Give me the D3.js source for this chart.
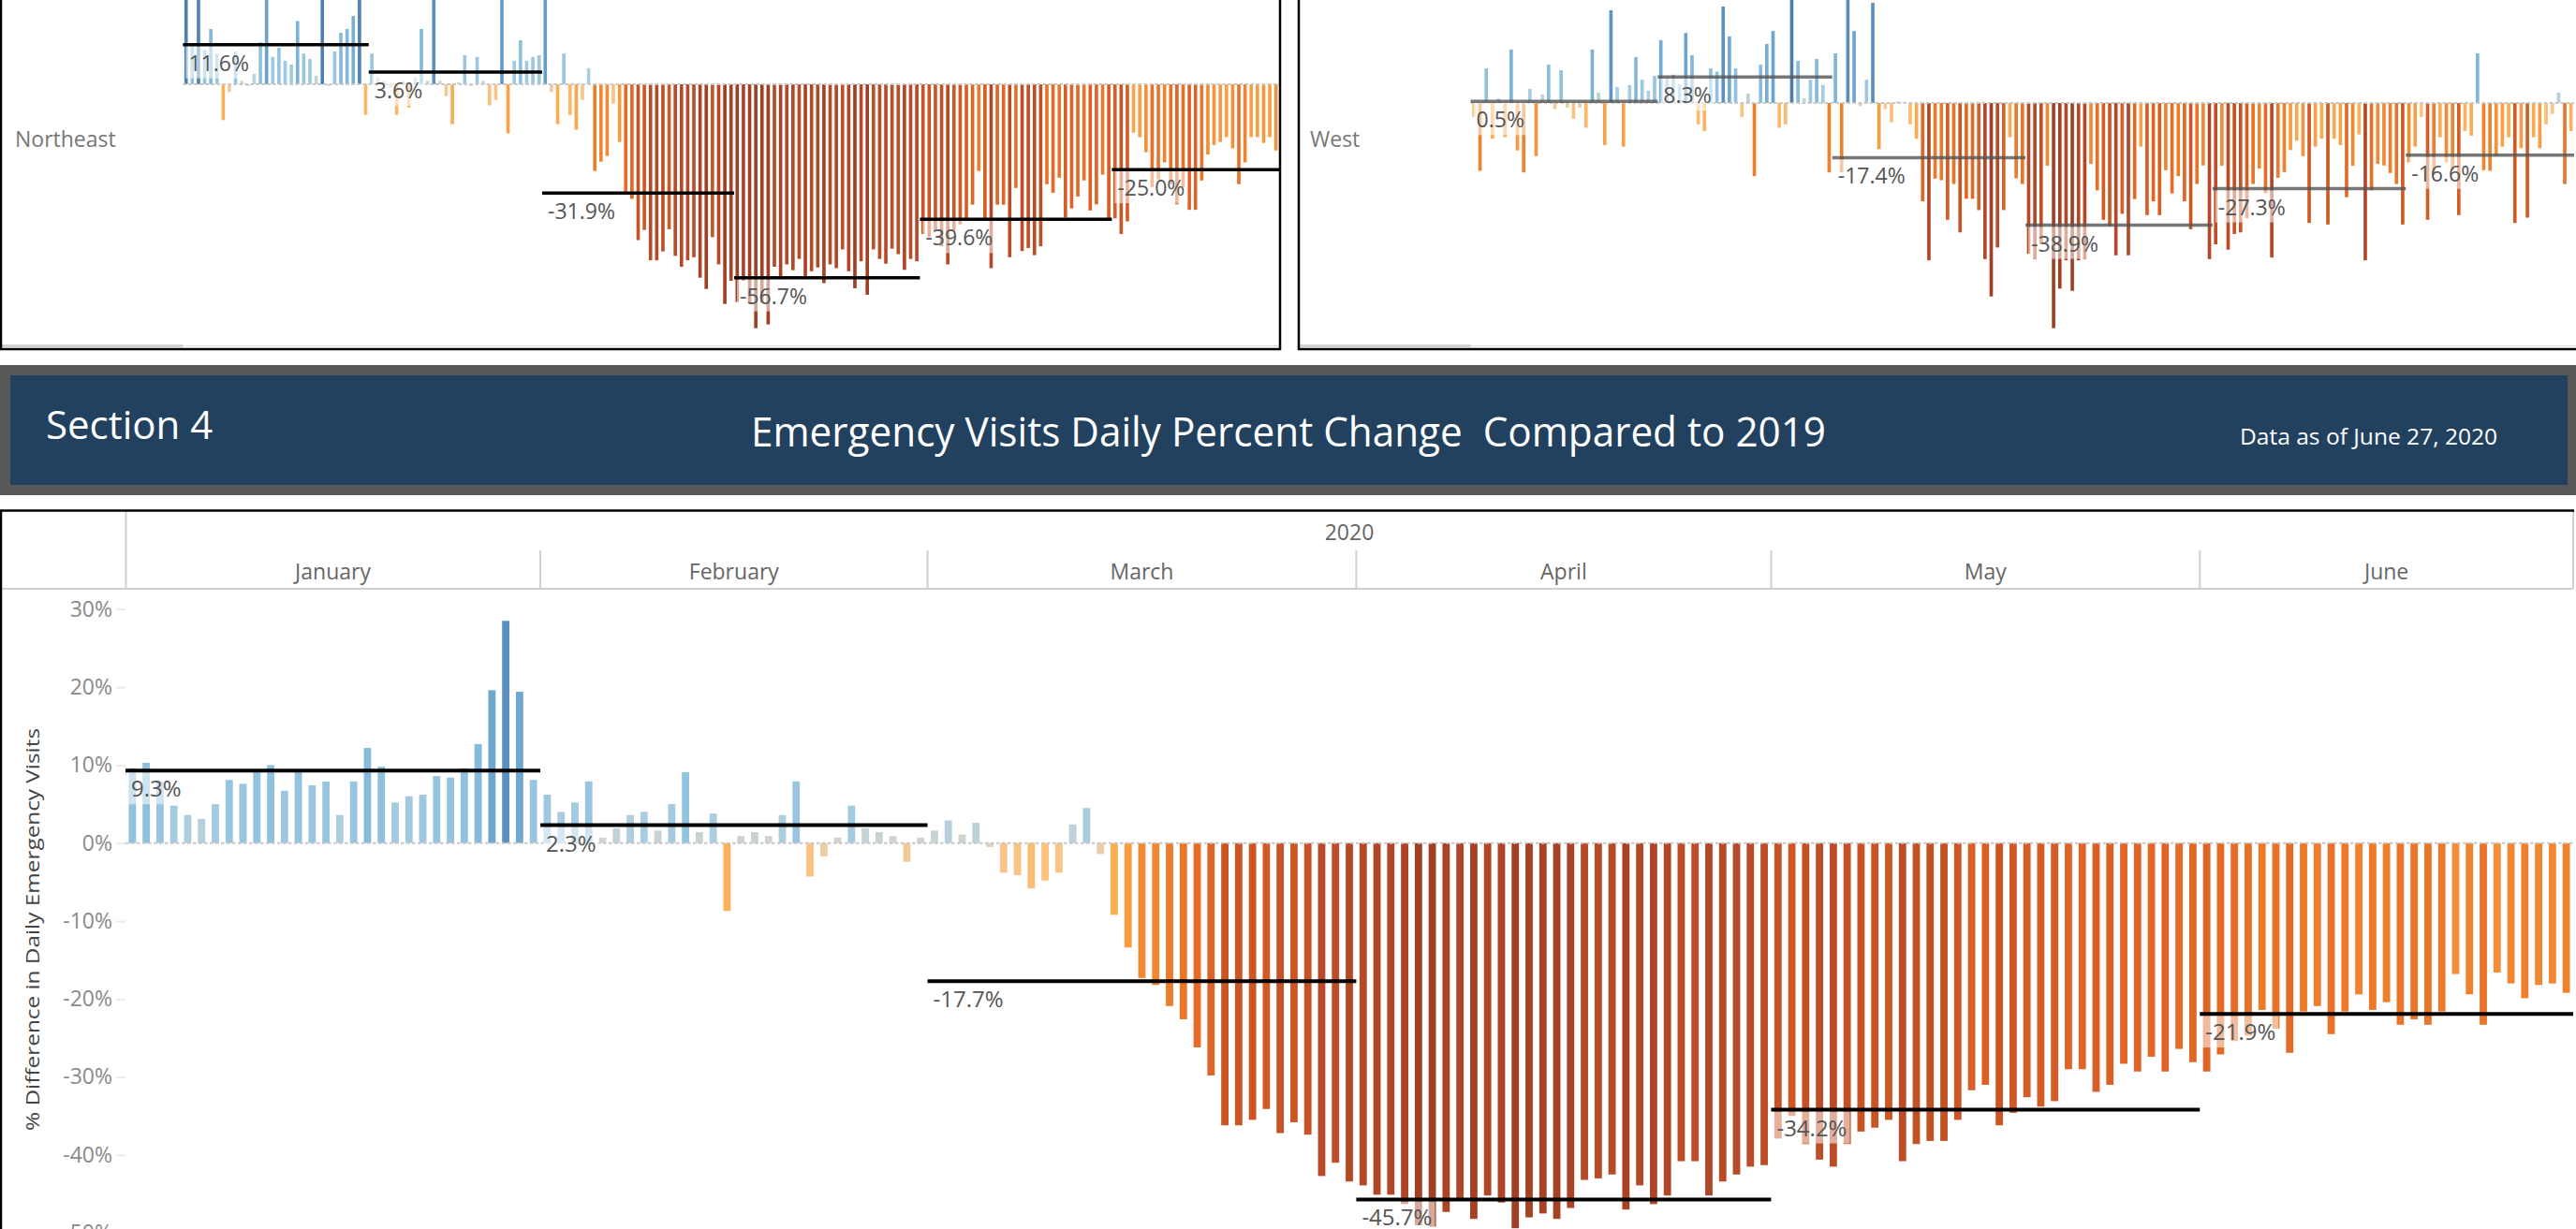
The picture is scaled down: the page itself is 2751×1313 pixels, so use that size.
<!DOCTYPE html>
<html>
<head>
<meta charset="utf-8">
<script src="https://cdn.jsdelivr.net/npm/d3@7"></script>
<style>
  body { margin: 0; background: #fff; overflow: hidden; }
  svg { display: block; font-family: "Open Sans", "Noto Sans", sans-serif; }
</style>
</head>
<body>
<div id="chart"></div>
<script>
// Days with a 2019 comparison (Feb 29 has none, Jan 1 dropped)
const monthNames = ["January", "February", "March", "April", "May", "June"];
const monthFirstDay = [2, 1, 1, 1, 1, 1];
const monthLastDay = [31, 28, 31, 30, 31, 27];
const yearLabel = "2020";
const yTicks = [30, 20, 10, 0, -10, -20, -30, -40, -50];

// Daily % difference vs 2019 - national (Section 4 chart)
const nationalPct = [
  9.6, 10.3, 7.9, 4.8, 3.6, 3.1, 5.0, 8.1, 7.6, 9.1, 10.0, 6.7, 9.1, 7.4, 7.9, 3.6, 7.9, 12.2, 9.8, 5.2, 6.0, 6.2, 8.6, 8.4, 9.6, 12.7, 19.6, 28.5, 19.4, 8.1,
  6.2, 4.0, 5.2, 7.9, 0.7, 1.9, 3.6, 4.0, 1.6, 5.0, 9.1, 1.4, 3.8, -8.7, 0.9, 1.4, 0.9, 3.6, 7.9, -4.3, -1.7, 0.7, 4.8, 1.9, 1.4, 0.9, -2.4, 0.7,
  1.6, 2.9, 1.1, 2.6, -0.5, -3.8, -4.1, -5.8, -4.8, -3.8, 2.4, 4.5, -1.4, -9.2, -13.4, -17.3, -18.2, -20.9, -22.6, -26.2, -29.8, -36.2, -36.2, -35.5, -34.1, -37.2, -35.8, -37.4, -42.7, -41.0, -43.4,
  -43.9, -45.1, -45.1, -46.3, -49.0, -49.2, -47.3, -45.8, -48.2, -45.2, -46.1, -49.4, -48.0, -47.5, -48.2, -46.8, -43.2, -43.0, -42.5, -47.0, -43.9, -46.3, -45.2, -40.8, -40.8, -45.2, -43.4, -42.5, -41.5, -41.3,
  -37.9, -35.0, -38.6, -40.6, -41.5, -38.6, -37.0, -36.5, -35.5, -40.8, -38.6, -38.2, -38.2, -35.5, -31.7, -31.0, -36.2, -34.6, -32.6, -33.8, -33.1, -29.0, -29.0, -31.9, -31.0, -28.3, -29.3, -27.4, -29.3, -26.4, -28.1,
  -29.3, -27.1, -25.4, -24.7, -21.4, -23.8, -26.9, -21.6, -20.9, -24.5, -21.6, -19.4, -21.4, -20.4, -23.3, -22.6, -23.3, -21.6, -16.8, -19.4, -23.3, -16.6, -18.0, -19.9, -18.2, -18.0, -19.2
];
const nationalAvg = [9.3, 2.3, -17.7, -45.7, -34.2, -21.9];

// Northeast region (top left, partly cut off)
const northeastPct = [
  42, 12, 40, 10, 16.2, 9, -10.5, -2.3, 9.6, 1, -0.5, 3, 12.3, 26, 8, 10.7, 6.9, 5.8, 18.5, 9.0, 7.4, 2.5, 42, -0.5, 9.6, 15.1, 16.2, 20.0, 40, -9.0,
  9.0, 2, 1, -1, -9.0, 1, -6.9, 2, 16.2, 1, 35, 1, -3.5, -11.7, 0.5, 8.5, -0.5, 8.0, 1, -6.2, -4.6, 30, -14.4, 6.9, 12.9, 6.9, 8.0, 8.5,
  28, -2.3, -11.7, 9.0, -9.0, -13.3, -4.6, 4.7, -25.4, -22.7, -21.0, -5.7, -16.9, -31.5, -33.6, -45.7, -42.7, -51.6, -51.6, -49.0, -42.5, -50.3, -53.5, -51.6, -50.7, -56.7, -60.0, -44.8, -52.8, -64.4, -57.6,
  -63.8, -57.6, -64.0, -71.5, -64.0, -70.4, -53.5, -57.1, -52.8, -54.5, -51.2, -57.1, -54.8, -53.7, -58.3, -52.8, -53.9, -48.4, -54.8, -59.8, -51.9, -61.7, -48.4, -51.2, -52.6, -48.2, -49.8, -54.4, -51.2, -51.9,
  -43.9, -44.8, -43.0, -47.5, -52.8, -43.0, -41.1, -39.3, -35.3, -25.4, -39.3, -53.9, -35.3, -35.3, -50.7, -30.4, -48.9, -48.0, -50.1, -47.5, -29.3, -31.8, -27.4, -39.1, -36.4, -32.9, -28.2, -37.0, -35.2, -26.5, -39.8,
  -39.3, -43.9, -40.2, -14.2, -15.5, -19.9, -30.2, -27.9, -22.9, -29.3, -35.2, -30.2, -36.8, -36.8, -28.2, -20.6, -17.8, -16.9, -15.5, -18.8, -29.3, -22.9, -15.5, -15.5, -17.2, -15.5, -19.4
];
const northeastAvg = [11.6, 3.6, -31.9, -56.7, -39.6, -25.0];

// West region (top right, partly cut off)
const westPct = [
  -4.5, -21.6, 11.0, -11.4, 1.5, -10.9, 17.0, -15.1, -22.1, 4.5, -16.9, 2.7, 12.2, -2.0, 10.4, -1.5, -5.0, -1.5, -7.9, 17.0, 3.3, -13.4, 29.5, 5.1, -13.9, 5.7, 14.6, 7.4, 3.9, 8.6,
  20.0, 8, 9, 6, 22.3, 15.2, -6.8, -8.9, 11.0, 10, 30.7, 21.2, 11.0, -4.5, 3, -23.3, 12.2, 18.8, 22.9, -7.9, -6.8, 40, 13.4, 1.5, 7.4, 14.0, 5.7, -22.1,
  15.8, -22.1, 33, 22.9, -1, 7.4, 31.9, -14.7, -2, -6.2, 0.5, 0.3, -6.8, -11.4, -31.3, -50.1, -24.1, -24.6, -37.2, -25.8, -41.2, -30.5, -30.5, -34.1, -49.7, -61.6, -46.0, -34.1, -10.9, -24.0, -25.8,
  -48.0, -49.7, -45.0, -20.0, -71.7, -59.1, -50.1, -59.8, -50.1, -49.7, -19.4, -27.8, -37.2, -39.2, -48.5, -35.3, -48.5, -30.6, -13.9, -35.7, -31.3, -35.7, -21.4, -28.8, -23.3, -31.3, -40.2, -25.8, -19.9, -49.7,
  -45.0, -20.0, -46.7, -41.7, -41.2, -36.7, -25.8, -20.9, -28.8, -49.2, -23.8, -22.0, -15.0, -12.0, -16.9, -38.2, -13.9, -11.4, -38.7, -11.4, -13.4, -30.0, -20.0, -10.0, -50.1, -27.8, -19.4, -19.9, -22.3, -25.8, -38.7,
  -18.9, -13.9, -4.5, -37.2, -22.8, -10.9, -18.9, -21.4, -35.7, -8.9, -10.4, 15.8, -21.4, -21.6, -16.9, -13.9, -10.9, -38.2, -14.4, -36.5, -10.9, -14.4, -6.8, -3.5, 3.3, -25.8, -8.9
];
const westAvg = [0.5, 8.3, -17.4, -38.9, -27.3, -16.6];

try {
    const width = 2751;
    const height = 1313;
    const font = '"Open Sans", "Noto Sans", sans-serif';

    // Orange-blue diverging ramp, position = value / panel max
    const rampStops = [-1, -0.9, -0.8, -0.7, -0.6, -0.5, -0.4, -0.3, -0.2, -0.1, -0.04, 0, 0.04, 0.08, 0.2, 0.4, 0.58, 1];
    const rampColors = ["#a03f23", "#b34828", "#c04f25", "#cf5924", "#de6326", "#e86f27", "#ef802d", "#f6953b", "#fcab4f",
                        "#fdc07a", "#efcb9c", "#d9d5c9", "#c3d3d6", "#a9cde0", "#8fc1df", "#6ea6cf", "#5b8fbf", "#2b5c8a"];
    const ramp = d3.scaleLinear().domain(rampStops).range(rampColors).clamp(true);

    const days = monthNames.flatMap((m, i) =>
        d3.range(monthFirstDay[i], monthLastDay[i] + 1).map(d => ({ month: i, key: m.slice(0, 3) + " " + d })));
    const dayKeys = days.map(d => d.key);

    const svg = d3.select("#chart")
        .append("svg")
        .attr("width", width)
        .attr("height", height);

    const fmtPct = v => v.toFixed(1) + "%";

    // One bar panel: bars, zero line, monthly average lines with labels
    function drawPanel(cfg) {
        const g = svg.append("g");
        const x = d3.scaleBand()
            .domain(dayKeys)
            .range([cfg.x0, cfg.x1])
            .paddingInner(cfg.pad)
            .paddingOuter(cfg.pad / 2);
        const y = d3.scaleLinear()
            .domain([0, 10])
            .range([cfg.zeroY, cfg.zeroY - 10 * cfg.pxPer]);

        const rows = days.map((d, i) => ({ key: d.key, month: d.month, value: cfg.values[i] }));

        g.append("g").selectAll("rect")
            .data(rows)
            .enter()
            .append("rect")
            .attr("x", d => x(d.key))
            .attr("width", x.bandwidth())
            .attr("y", d => Math.min(y(d.value), y(0)))
            .attr("height", d => Math.abs(y(d.value) - y(0)))
            .attr("fill", d => ramp(d.value / cfg.maxAbs));

        g.append("line")
            .attr("x1", cfg.x0).attr("x2", cfg.x1)
            .attr("y1", y(0)).attr("y2", y(0))
            .attr("stroke", "#c8c8c8")
            .attr("stroke-width", 2)
            .attr("stroke-dasharray", "3.5,2.5");

        const half = x.step() * cfg.pad / 2;
        const bounds = monthNames.map((m, i) => {
            const inMonth = rows.filter(r => r.month === i);
            return [x(inMonth[0].key) - half, x(inMonth[inMonth.length - 1].key) + x.bandwidth() + half];
        });

        const refs = g.append("g").selectAll("g")
            .data(cfg.avgs)
            .enter()
            .append("g");

        refs.each(function (v, i) {
            const ref = d3.select(this);
            const ly = y(v);
            const bg = ref.append("rect");
            const txt = ref.append("text")
                .attr("x", bounds[i][0] + 6)
                .attr("y", ly + cfg.labelDy)
                .style("font-family", font)
                .style("font-size", cfg.labelSize + "px")
                .style("fill", "#555")
                .text(fmtPct(v));
            const bb = txt.node().getBBox();
            bg.attr("x", bb.x - 3)
                .attr("y", ly + cfg.lineWidth / 2)
                .attr("width", bb.width + 6)
                .attr("height", (ly + cfg.labelDy + 8) - (ly + cfg.lineWidth / 2))
                .attr("fill", "#fff")
                .attr("fill-opacity", 0.55);
            ref.insert("line", "rect")
                .attr("x1", bounds[i][0]).attr("x2", bounds[i][1])
                .attr("y1", ly).attr("y2", ly)
                .attr("stroke", cfg.lineColor)
                .attr("stroke-opacity", cfg.lineOpacity)
                .attr("stroke-width", cfg.lineWidth);
            ref.select("line").raise();
            txt.raise();
        });

        return { x, y, bounds };
    }

    // ---- Top region panels (Northeast / West) ----
    const ne = drawPanel({
        x0: 195.4, x1: 1366, zeroY: 90, pxPer: 3.645, pad: 0.45, maxAbs: 60,
        values: northeastPct, avgs: northeastAvg,
        lineColor: "#000", lineOpacity: 1, lineWidth: 3.5, labelSize: 23, labelDy: 28
    });
    const west = drawPanel({
        x0: 1570.6, x1: 2749, zeroY: 110, pxPer: 3.356, pad: 0.45, maxAbs: 55,
        values: westPct, avgs: westAvg,
        lineColor: "#555", lineOpacity: 0.8, lineWidth: 3.5, labelSize: 23, labelDy: 28
    });

    const regionLabels = [
        { name: "Northeast", x: 16, left: 0, plotLeft: 195.4, right: 1367.5 },
        { name: "West", x: 1399, left: 1386, plotLeft: 1570.6, right: 2751 }
    ];
    regionLabels.forEach(r => {
        svg.append("text")
            .attr("x", r.x).attr("y", 157)
            .style("font-family", font)
            .style("font-size", "23px")
            .style("fill", "#777")
            .text(r.name);
        svg.append("line")
            .attr("x1", r.left).attr("x2", r.right)
            .attr("y1", 369.5).attr("y2", 369.5)
            .attr("stroke", "#dcdcdc").attr("stroke-width", 1);
        svg.append("rect")
            .attr("x", r.left).attr("y", 368)
            .attr("width", r.plotLeft - r.left).attr("height", 3)
            .attr("fill", "#d3d3d3");
        // panel frame
        svg.append("line")
            .attr("x1", r.left).attr("x2", r.right)
            .attr("y1", 373).attr("y2", 373)
            .attr("stroke", "#000").attr("stroke-width", 2.5);
        svg.append("line")
            .attr("x1", r.left + 1).attr("x2", r.left + 1)
            .attr("y1", 0).attr("y2", 374)
            .attr("stroke", "#000").attr("stroke-width", 2.5);
    });
    svg.append("line")
        .attr("x1", 1367).attr("x2", 1367)
        .attr("y1", 0).attr("y2", 374)
        .attr("stroke", "#000").attr("stroke-width", 2.5);

    // ---- Section banner ----
    svg.append("rect").attr("x", 0).attr("y", 390).attr("width", width).attr("height", 139).attr("fill", "#585858");
    svg.append("rect").attr("x", 11).attr("y", 401).attr("width", 2731).attr("height", 117).attr("fill", "#22415f");
    svg.append("text")
        .attr("x", 49).attr("y", 469)
        .style("font-family", font).style("font-size", "42px").style("fill", "#fff")
        .text("Section 4");
    svg.append("text")
        .attr("x", 802).attr("y", 477)
        .attr("textLength", 1148).attr("lengthAdjust", "spacingAndGlyphs")
        .style("white-space", "pre")
        .style("font-family", font).style("font-size", "43px").style("fill", "#fff")
        .text("Emergency Visits Daily Percent Change  Compared to 2019");
    svg.append("text")
        .attr("x", 2392).attr("y", 475)
        .attr("textLength", 275).attr("lengthAdjust", "spacingAndGlyphs")
        .style("font-family", font).style("font-size", "24px").style("fill", "#fff")
        .text("Data as of June 27, 2020");

    // ---- Main national chart ----
    const main = drawPanel({
        x0: 134, x1: 2748, zeroY: 900.7, pxPer: 8.33, pad: 0.47, maxAbs: 49.4,
        values: nationalPct, avgs: nationalAvg,
        lineColor: "#000", lineOpacity: 1, lineWidth: 4, labelSize: 24, labelDy: 28
    });

    // y axis
    const yAxis = svg.append("g")
        .attr("transform", "translate(134,0)")
        .call(d3.axisLeft(main.y).tickValues(yTicks).tickFormat(d => d + "%").tickSize(10).tickPadding(4));
    yAxis.select(".domain").remove();
    yAxis.selectAll(".tick line").attr("stroke", "#ebebeb").attr("stroke-width", 2);
    yAxis.selectAll(".tick text")
        .style("font-family", font).style("font-size", "23px").style("fill", "#8a8a8a");

    svg.append("text")
        .attr("transform", "translate(42,993) rotate(-90)")
        .attr("text-anchor", "middle")
        .attr("textLength", 430).attr("lengthAdjust", "spacingAndGlyphs")
        .style("font-family", font).style("font-size", "20px").style("fill", "#444")
        .text("% Difference in Daily Emergency Visits");

    // column header: year and months
    const hdr = svg.append("g");
    hdr.append("text")
        .attr("x", (134 + 2748) / 2).attr("y", 577)
        .attr("text-anchor", "middle")
        .style("font-family", font).style("font-size", "23px").style("fill", "#666")
        .text(yearLabel);
    hdr.selectAll(".month")
        .data(monthNames)
        .enter()
        .append("text")
        .attr("x", (d, i) => (main.bounds[i][0] + main.bounds[i][1]) / 2)
        .attr("y", 619)
        .attr("text-anchor", "middle")
        .style("font-family", font).style("font-size", "23px").style("fill", "#666")
        .text(d => d);
    hdr.selectAll(".sep")
        .data(main.bounds.slice(1))
        .enter()
        .append("line")
        .attr("x1", d => d[0]).attr("x2", d => d[0])
        .attr("y1", 588).attr("y2", 629)
        .attr("stroke", "#d0d0d0").attr("stroke-width", 2);
    hdr.append("line").attr("x1", 134.5).attr("x2", 134.5).attr("y1", 545).attr("y2", 629)
        .attr("stroke", "#d0d0d0").attr("stroke-width", 2);
    hdr.append("line").attr("x1", 2748).attr("x2", 2748).attr("y1", 545).attr("y2", 629)
        .attr("stroke", "#d0d0d0").attr("stroke-width", 2);
    hdr.append("line").attr("x1", 0).attr("x2", 2748).attr("y1", 629).attr("y2", 629)
        .attr("stroke", "#d0d0d0").attr("stroke-width", 2);

    // main panel frame
    svg.append("line").attr("x1", 0).attr("x2", 2749).attr("y1", 545.5).attr("y2", 545.5)
        .attr("stroke", "#000").attr("stroke-width", 2.5);
    svg.append("line").attr("x1", 1).attr("x2", 1).attr("y1", 545).attr("y2", height)
        .attr("stroke", "#000").attr("stroke-width", 2.5);

} catch (error) {
    console.error('Error rendering chart:', error);
    document.getElementById('chart').innerHTML = `<p style="color:red;padding:20px;font-size:14px;">Error: ${error.message}</p>`;
}
</script>
</body>
</html>
